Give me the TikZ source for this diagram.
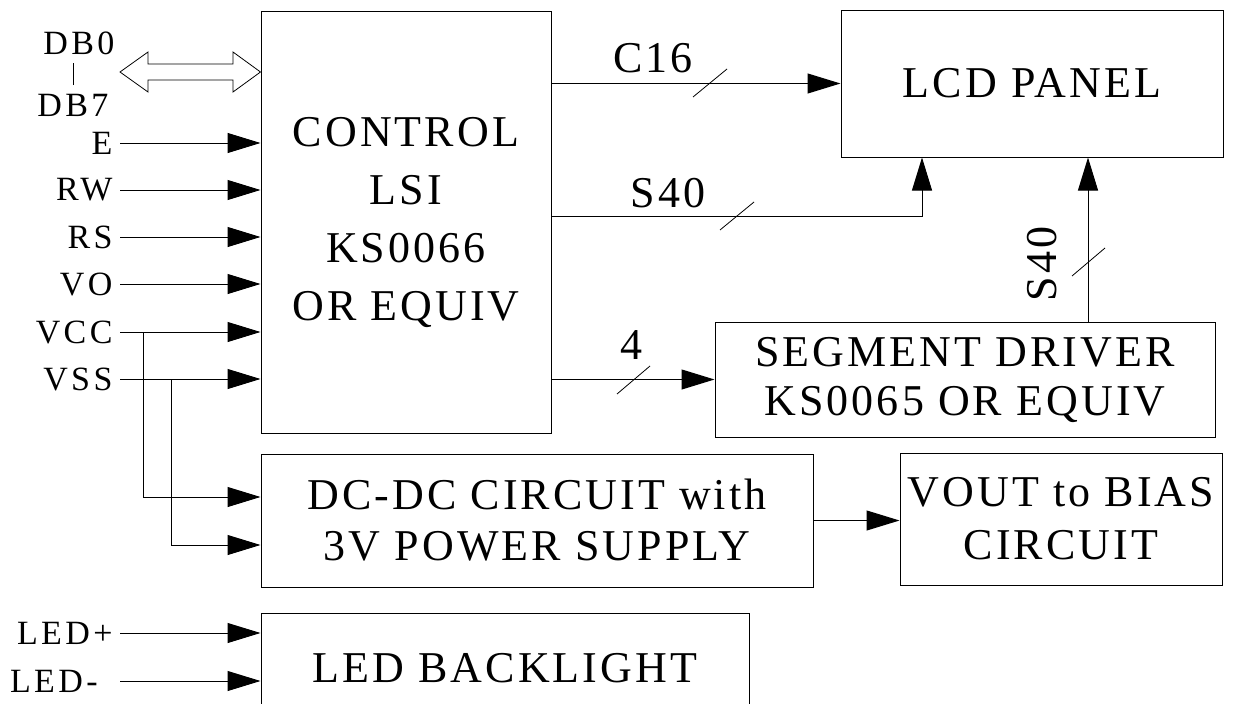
\documentclass[tikz,border=0pt]{standalone}
\usepackage{fontspec}
\setmainfont{Liberation Serif}[LetterSpace=7]
\newfontfamily\smfont{Liberation Serif}[LetterSpace=10]
\usetikzlibrary{arrows.meta,calc}
\begin{document}
\begin{tikzpicture}[x=1pt,y=-1pt,line width=1pt,
  box/.style={draw,line width=1pt,align=center,inner sep=0pt},
  sm/.style={font=\smfont\fontsize{34}{40}\selectfont},
  lbl/.style={sm,anchor=east,inner xsep=7pt,inner ysep=0pt},
  arr/.style={-{Triangle[length=33pt,width=20pt]}},
  slash/.style={line width=0.8pt}]
\useasboundingbox (0,0) rectangle (1237,704);
% boxes
\node[box,minimum width=290pt,minimum height=422pt,font=\fontsize{44}{58}\selectfont] (ctrl) at (406,222) {CONTROL\\LSI\\KS0066\\OR EQUIV};
\node[box,minimum width=382pt,minimum height=147pt,font=\fontsize{44}{50}\selectfont] (lcd) at (1032,83.5) {LCD PANEL};
\node[box,minimum width=500pt,minimum height=115pt,font=\fontsize{44}{49}\selectfont] (seg) at (965,379.5) {SEGMENT DRIVER\\KS0065 OR EQUIV};
\node[box,minimum width=552pt,minimum height=133pt,font=\fontsize{44}{51}\selectfont] (dc) at (537,520.5) {DC-DC CIRCUIT with\\3V POWER SUPPLY};
\node[box,minimum width=322pt,minimum height=132pt,font=\fontsize{44}{53}\selectfont] (vout) at (1061,519) {VOUT to BIAS\\CIRCUIT};
\node[box,minimum width=488pt,minimum height=110pt,font=\fontsize{44}{50}\selectfont] (led) at (505,668) {LED BACKLIGHT};
% data bus
\node[sm,inner sep=0pt] (db0) at (79,43) {DB0};
\node[sm,inner sep=0pt] (db7) at (73,105) {DB7};
\draw[line width=0.8pt] ($(db7.center)+(0,-20)$) -- ($(db7.center)+(0,-42)$);
\draw[line width=0.8pt] (120,72) -- (148,52) -- (148,64) -- (233,64) -- (233,52) -- (ctrl.west |- 0,72) -- (233,92) -- (233,80) -- (148,80) -- (148,92) -- cycle;
% inputs
\node[lbl] (E) at (120,143) {E};
\node[lbl] (RW) at (120,190) {RW};
\node[lbl] (RS) at (120,237) {RS};
\node[lbl] (VO) at (120,284) {VO};
\node[lbl] (VCC) at (120,332) {VCC};
\node[lbl] (VSS) at (120,379) {VSS};
\foreach \n in {E,RW,RS,VO,VCC,VSS}
  \draw[arr] (\n.east) -- (\n.east -| ctrl.west);
\path (VCC.east) ++(23,0) coordinate (jc);
\path (VSS.east) ++(51,0) coordinate (js);
\draw[arr] (jc) |- ($(dc.west)+(0,-23.5)$);
\draw[arr] (js) |- ($(dc.west)+(0,24.5)$);
\node[lbl] (ledp) at (120,633) {LED+};
\node[sm,anchor=west,inner sep=0pt] (ledm) at (ledp.west |- 0,681) {LED-};
\draw[arr] (ledp.east) -- (ledp.east -| led.west);
\draw[arr] (ledm -| ledp.east) -- (ledm -| led.west);
% outputs
\draw[arr] (ctrl.east |- lcd.west) -- (lcd.west);
\draw[slash] (693,97) -- (727,69);
\node[font=\fontsize{44}{50}\selectfont,inner sep=0pt] (c16) at (653,58) {C16};
\path (ctrl.east) ++(0,-6) coordinate (s40s);
\draw[arr] (s40s) -| ($(lcd.south)+(-110,0)$);
\draw[slash] (720,230) -- (754,202);
\node[font=\fontsize{44}{50}\selectfont,inner sep=0pt] (s40a) at (668,193) {S40};
\draw[arr] (ctrl.east |- seg.west) -- (seg.west);
\draw[slash] (617,394) -- (650,366);
\node[font=\fontsize{44}{50}\selectfont,inner sep=0pt] (four) at (631,345) {4};
\draw[arr] ($(seg.north)+(123,0)$) -- ($(lcd.south)+(56,0)$);
\draw[slash] (1072,276) -- (1105,248);
\node[font=\fontsize{44}{50}\selectfont,inner sep=0pt,rotate=90] (s40b) at (1042,264) {S40};
\draw[arr] (dc.east) -- (dc.east -| vout.west);
\end{tikzpicture}
\end{document}
